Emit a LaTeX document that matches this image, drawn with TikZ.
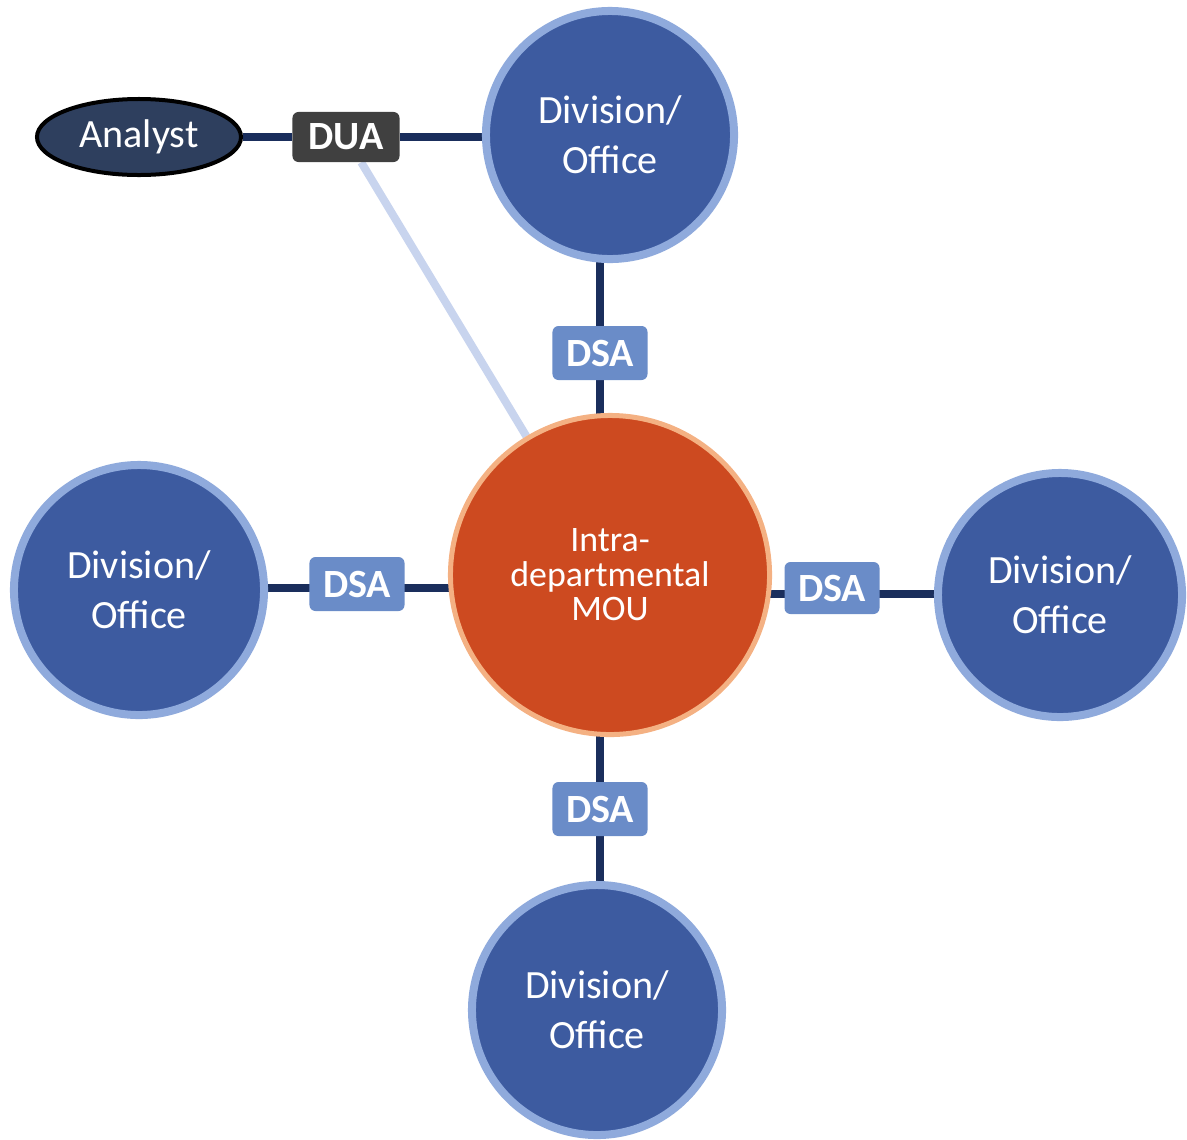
\documentclass[tikz,border=0pt]{standalone}
\usepackage{fontspec}
\setmainfont{Carlito}
\usetikzlibrary{shapes.geometric,backgrounds}
\definecolor{navy}{HTML}{1A2E5C}
\definecolor{divfill}{HTML}{3D5BA0}
\definecolor{divborder}{HTML}{8FAADC}
\definecolor{dsafill}{HTML}{6A8CC8}
\definecolor{mouborder}{HTML}{F4B183}
\definecolor{moufill}{HTML}{CD4A20}
\definecolor{duafill}{HTML}{404040}
\definecolor{analystfill}{HTML}{2E3F5E}
\definecolor{lightlink}{HTML}{C8D4EE}
\tikzset{
  divnode/.style={circle, fill=divfill, draw=divborder, line width=0.2cm, inner sep=0pt,
    text=white, align=center, font=\fontsize{28.5}{35.5}\selectfont},
  dsabox/.style={rectangle, rounded corners=0.15cm, fill=dsafill, inner sep=0pt,
    minimum width=2.375cm, minimum height=1.35cm, text=white, font=\fontsize{28.5}{34}\selectfont\bfseries},
  duabox/.style={dsabox, fill=duafill, minimum width=2.675cm, minimum height=1.25cm},
  moubox/.style={circle, fill=moufill, draw=mouborder, line width=0.125cm, inner sep=0pt,
    minimum size=7.975cm, text=white, align=center, font=\fontsize{25.5}{24.5}\selectfont},
  analystbox/.style={ellipse, fill=analystfill, draw=black, line width=0.1cm, inner sep=0pt,
    minimum width=5.1cm, minimum height=1.9cm, text=white, font=\fontsize{28.5}{34}\selectfont},
  link/.style={draw=navy, line width=0.19cm},
  softlink/.style={draw=lightlink, line width=0.2cm}
}
\begin{document}
\begin{tikzpicture}[x=0.025cm, y=-0.025cm]
\useasboundingbox (0,0) rectangle (1187,1139);
% nodes
\node[divnode, minimum size=6.2cm]  (top)    at (610,135)  {Division/\\Office};
\node[divnode, minimum size=6.25cm] (left)   at (139,590)  {Division/\\Office};
\node[divnode, minimum size=6.1cm]  (right)  at (1060,595) {Division/\\Office};
\node[divnode, minimum size=6.25cm] (bottom) at (597,1010) {Division/\\Office};
\node[moubox] (mou) at (610,575) {Intra-\\departmental\\MOU};
\node[analystbox] (analyst) at (139,137) {Analyst};
\node[duabox] (dua) at (346,137) {DUA};
\node[dsabox] (dsaT) at (600,353) {DSA};
\node[dsabox] (dsaL) at (357,584) {DSA};
\node[dsabox, minimum height=1.3cm] (dsaR) at (832,588) {DSA};
\node[dsabox] (dsaB) at (600,809) {DSA};
\coordinate (lL) at ([yshift=-0.1cm]dsaL.center);
\coordinate (lR) at ([yshift=-0.15cm]dsaR.center);
% connectors
\begin{scope}[on background layer]
  \draw[softlink] (dua) -- (mou);
  \draw[link] (analyst) -- (dua) -- (dua -| top);
  \draw[link] (dsaT |- top) -- (dsaT) -- (dsaT |- mou);
  \draw[link] (lL -| left) -- (lL) -- (lL -| mou);
  \draw[link] (lR -| mou) -- (lR) -- (lR -| right);
  \draw[link] (dsaB |- mou) -- (dsaB) -- (dsaB |- bottom);
\end{scope}
\end{tikzpicture}
\end{document}
